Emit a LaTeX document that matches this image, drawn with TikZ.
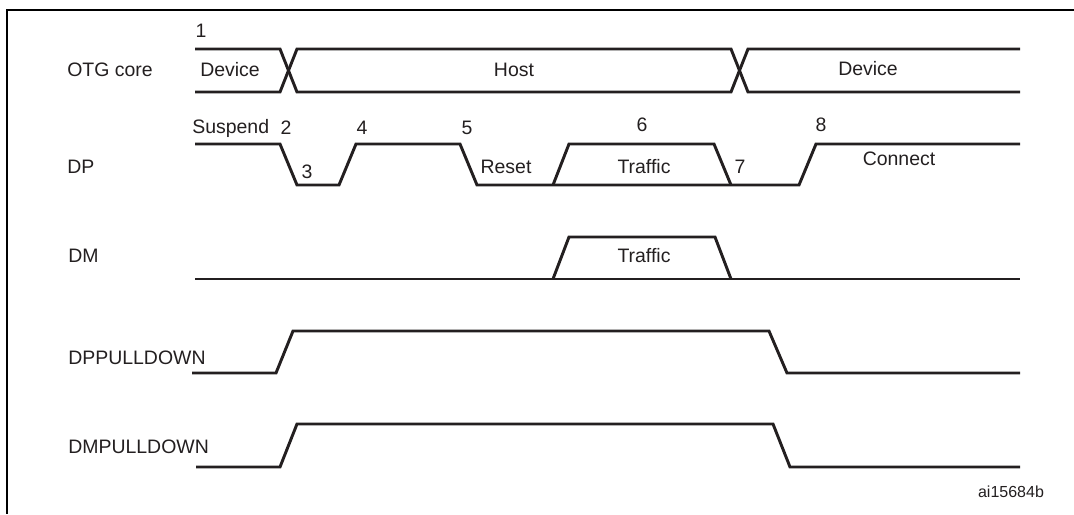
\documentclass[tikz,border=0pt]{standalone}
\usepackage{fontspec}
\setmainfont{Liberation Sans}
\usetikzlibrary{positioning}
\definecolor{ink}{RGB}{35,31,32}

\begin{document}
\begin{tikzpicture}[x=0.75pt,y=-0.75pt,
  font=\fontsize{14.6}{17}\selectfont, color=ink,
  sig/.style={line width=2.2pt, line join=miter},
  frame/.style={line width=2.2pt, black},
  lbl/.style={inner sep=0pt}]
\useasboundingbox (0,0) rectangle (1074,514);
% frame
\draw[frame] (1074,10) -- (7,10) -- (7,514);
% signal names
\node[lbl, anchor=west] (lotg) at (67,70) {OTG core};
\node[lbl, anchor=west] (ldp) at (67,167) {DP};
\node[lbl, anchor=west] (ldm) at (68,256) {DM};
\node[lbl, anchor=west] (ldppd) at (68,358) {DPPULLDOWN};
\node[lbl, anchor=west] (ldmpd) at (68,447) {DMPULLDOWN};
% OTG core bus
\draw[sig] (195,49) -- (280,49) -- (297,92) -- (731,92) -- (748,49) -- (1020,49);
\draw[sig] (195,92) -- (280,92) -- (297,49) -- (731,49) -- (748,92) -- (1020,92);
\node[lbl] (n1) at (201,31) {1};
\node[lbl, anchor=west] (tdev1) at (200,70) {Device};
\node[lbl] (thost) at (514,70) {Host};
\node[lbl] (tdev2) at (868,69) {Device};
% DP
\draw[sig] (195,144) -- (280,144) -- (297,185) -- (339,185) -- (356,144) -- (460,144)
  -- (477,185) -- (799,185) -- (816,144) -- (1020,144);
\draw[sig] (553,185) -- (569,144) -- (714,144) -- (731,185);
\node[lbl, anchor=west] (tsusp) at (192,128) {Suspend};
\node[lbl] (n2) at (286,128) {2};
\node[lbl] (n3) at (307,172) {3};
\node[lbl] (n4) at (362,128) {4};
\node[lbl] (n5) at (467,128) {5};
\node[lbl] (treset) at (506,167) {Reset};
\node[lbl] (n6) at (642,125) {6};
\node[lbl] (ttraf1) at (644,167) {Traffic};
\node[lbl] (n7) at (740,167) {7};
\node[lbl] (n8) at (821,125) {8};
\node[lbl] (tconn) at (899,159) {Connect};
% DM
\draw[sig] (195,279) -- (1020,279);
\draw[sig] (553,279) -- (569,237) -- (715,237) -- (731,279);
\node[lbl] (ttraf2) at (644,256) {Traffic};
% pull-downs
\draw[sig] (192,373) -- (276,373) -- (293,331) -- (769,331) -- (787,373) -- (1020,373);
\draw[sig] (196,467) -- (280,467) -- (297,424) -- (773,424) -- (790,467) -- (1020,467);
\node[lbl, font=\fontsize{12}{14}\selectfont] (tref) at (1011,492) {ai15684b};
\end{tikzpicture}
\end{document}
